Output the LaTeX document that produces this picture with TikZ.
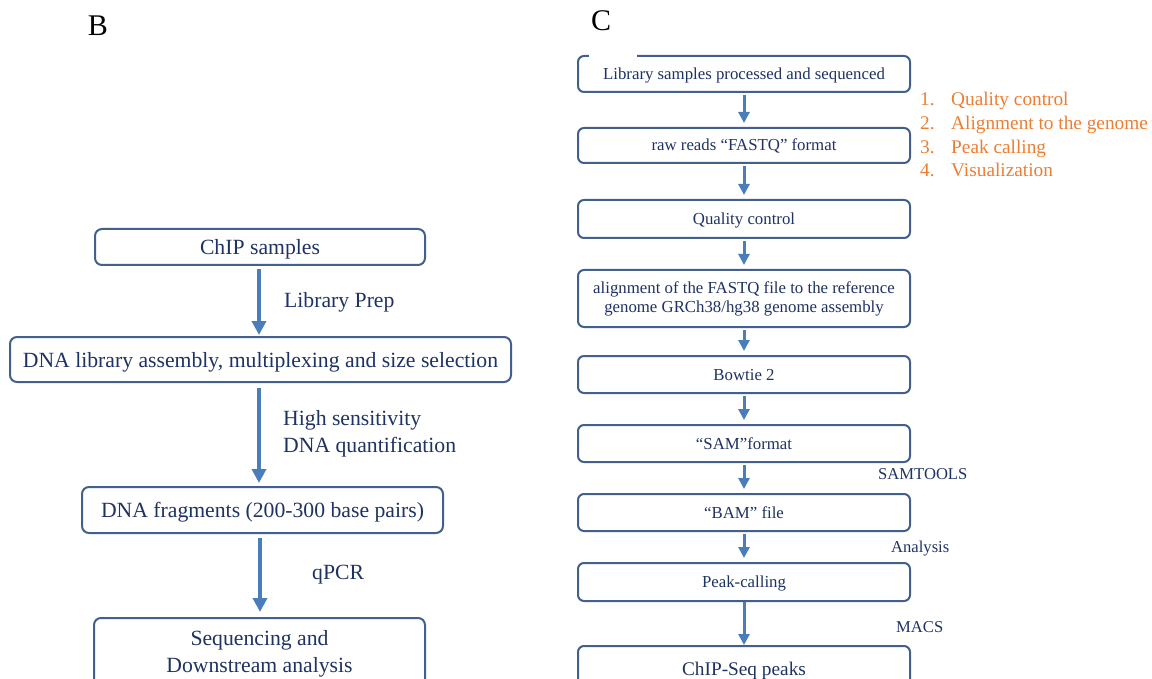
\documentclass[tikz,border=0pt]{standalone}
\usepackage{fontspec}
\setmainfont{Liberation Serif}
\usetikzlibrary{arrows.meta}
\definecolor{navy}{RGB}{31,50,100}
\definecolor{boxline}{RGB}{66,96,140}
\definecolor{arrowblue}{RGB}{74,126,187}
\definecolor{listorange}{RGB}{237,125,49}
\begin{document}
\begin{tikzpicture}[x=1pt,y=-1pt,
  bbox/.style={draw=boxline, line width=2pt, rounded corners=7pt, fill=white,
    text=navy, font=\fontsize{21.7}{27}\selectfont, inner sep=0pt},
  bline/.style={text height=16.5pt, text depth=1.5pt},
  cbox/.style={draw=boxline, line width=2pt, rounded corners=6pt, fill=white,
    text=navy, font=\fontsize{16.8}{19}\selectfont, inner sep=0pt,
    minimum width=332pt},
  cline/.style={text height=12pt, text depth=1pt},
  blabel/.style={text=navy, font=\fontsize{21.7}{27}\selectfont, inner sep=0pt, anchor=west, align=left},
  clabel/.style={text=navy, font=\fontsize{16.6}{19}\selectfont, inner sep=0pt, anchor=west},
  olabel/.style={text=listorange, font=\fontsize{19.3}{22}\selectfont, inner sep=0pt, anchor=west,
    text height=13pt, text depth=1pt},
  panel/.style={text=black, font=\fontsize{30}{34}\selectfont, inner sep=0pt},
  barrow/.style={draw=arrowblue, line width=4.5pt, -{Triangle[length=14pt,width=14pt]}},
  carrow/.style={draw=arrowblue, line width=3pt, -{Triangle[length=11pt,width=11pt]},
    shorten <=2pt, shorten >=4pt}
]
\useasboundingbox (0,0) rectangle (1152,679);

% ---------------- panel B ----------------
\node[panel] (labB) at (98,26) {B};

\node[bbox, bline, minimum width=330pt, minimum height=36pt] (chip) at (260,247) {ChIP samples};
\node[bbox, bline, minimum width=501pt, minimum height=45pt] (lib) at (260.5,359.5)
  {DNA library assembly, multiplexing and size selection};
\node[bbox, bline, minimum width=361pt, minimum height=46pt] (frag) at (262.5,510)
  {DNA fragments (200-300 base pairs)};
\node[bbox, align=center, minimum width=331pt, minimum height=72pt] (seq) at (259.5,654)
  {Sequencing and\\[-0.5pt]Downstream analysis};

\draw[barrow, shorten <=3pt, shorten >=1pt] (chip.south -| 259,0) -- (lib.north -| 259,0);
\draw[barrow, shorten <=5pt, shorten >=3pt] (lib.south -| 259,0) -- (frag.north -| 259,0);
\draw[barrow, shorten <=4pt, shorten >=5pt] (frag.south -| 260,0) -- (seq.north -| 260,0);

\node[blabel] (prep) at (284,302) {Library Prep};
\node[blabel] (quant) at (283,434) {High sensitivity\\DNA quantification};
\node[blabel] (qpcr) at (312,575) {qPCR};

% ---------------- panel C ----------------
\node[panel] (labC) at (601,21) {C};

\node[cbox, cline, minimum height=36pt] (c1) at (744,74) {Library samples processed and sequenced};
\node[cbox, cline, minimum height=35pt] (c2) at (744,145.5) {raw reads “FASTQ” format};
\node[cbox, cline, minimum height=38pt] (c3) at (744,219) {Quality control};
\node[cbox, align=center, minimum height=57pt] (c4) at (744,298.5)
  {alignment of the FASTQ file to the reference\\genome GRCh38/hg38 genome assembly};
\node[cbox, cline, minimum height=37pt] (c5) at (744,374.5) {Bowtie 2};
\node[cbox, cline, minimum height=37pt] (c6) at (744,443.5) {“SAM”format};
\node[cbox, cline, minimum height=37pt] (c7) at (744,512.5) {“BAM” file};
\node[cbox, cline, minimum height=38pt] (c8) at (744,582) {Peak-calling};
\node[cbox, minimum height=46pt, font=\fontsize{19.3}{22}\selectfont,
  text height=13.5pt, text depth=1pt] (c9) at (744,669) {ChIP-Seq peaks};

% gap in the top edge of the first box
\fill[white] (589,52) rectangle (637,59);

\foreach \a/\b in {c1/c2,c2/c3,c3/c4,c4/c5,c5/c6,c6/c7,c7/c8}
  \draw[carrow] (\a.south) -- (\b.north);
\draw[carrow, shorten <=0pt, shorten >=0pt] (c8.south) -- (c9.north);

\node[clabel] (samtools) at (878,474) {SAMTOOLS};
\node[clabel] (analysis) at (891,549) {Analysis};
\node[clabel] (macs) at (896,627) {MACS};

% numbered list of the analysis steps
\foreach \i/\t/\y in {1/Quality control/100, 2/Alignment to the genome/124,
                      3/Peak calling/148, 4/Visualization/171} {
  \node[olabel] (num\i) at (920,\y) {\i.};
  \node[olabel] (step\i) at (951,\y) {\t};
}
\end{tikzpicture}
\end{document}
